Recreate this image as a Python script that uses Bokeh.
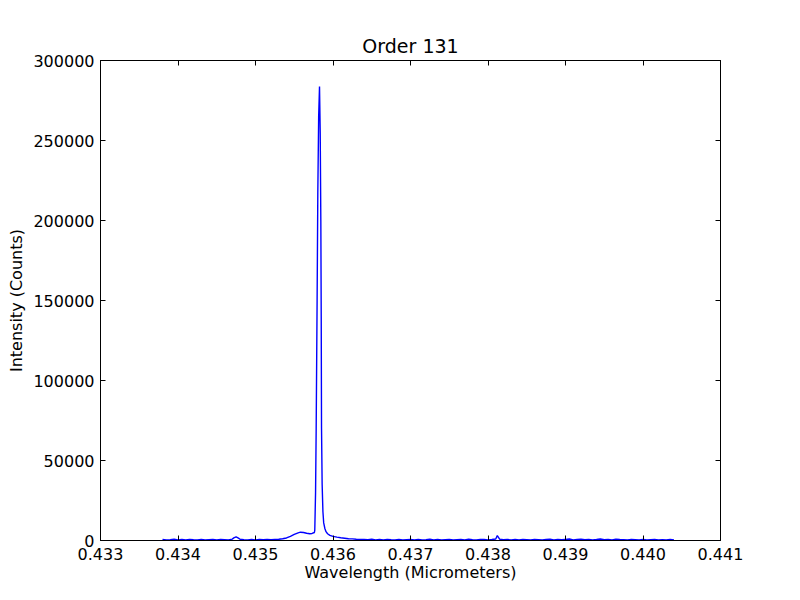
from bokeh.plotting import figure
from bokeh.models import LinearAxis, FixedTicker, PrintfTickFormatter, BasicTickFormatter, Range1d
from bokeh.embed import file_html
from bokeh.resources import INLINE

title_text = "Order 131"
x_label = "Wavelength (Micrometers)"
y_label = "Intensity (Counts)"
x_ticks = [0.433, 0.434, 0.435, 0.436, 0.437, 0.438, 0.439, 0.440, 0.441]
y_ticks = [0, 50000, 100000, 150000, 200000, 250000, 300000]

# left baseline
wl_left = [0.4338, 0.43385, 0.4339, 0.43395, 0.4340, 0.43405, 0.4341, 0.43415, 0.4342, 0.43425,
           0.4343, 0.43435, 0.4344, 0.43445, 0.4345, 0.43455, 0.4346, 0.43465, 0.4347, 0.43472,
           0.43475, 0.43478, 0.4348, 0.43485, 0.4349, 0.43495, 0.4350, 0.43505, 0.4351, 0.43515,
           0.4352, 0.43525]
int_left = [600, 300, 500, 800, 400, 600, 300, 700, 500, 400,
            600, 300, 500, 700, 400, 600, 500, 300, 900, 1600,
            2300, 1500, 800, 500, 300, 600, 400, 700, 500, 600,
            500, 700]

# bump and main peak
wl_peak = [0.43530, 0.43535, 0.43540, 0.43545, 0.43550, 0.43555, 0.43558, 0.43562, 0.43566,
           0.43570, 0.43573, 0.43576, 0.435765, 0.435775, 0.435783, 0.435795, 0.435804,
           0.435815, 0.435826, 0.435835, 0.435843, 0.435848, 0.435852, 0.435860, 0.435870,
           0.435880, 0.435895, 0.435910, 0.43593, 0.43596, 0.43600, 0.43605, 0.43610,
           0.43615, 0.4362, 0.43625, 0.4363, 0.43635, 0.4364]
int_peak = [800, 1100, 1600, 2600, 3800, 4800, 5200, 5000, 4500,
            4200, 4400, 5000, 6500, 30000, 70000, 150000, 217000,
            265000, 283700, 255000, 200000, 140000, 70000, 35000, 18000,
            11000, 7500, 5500, 4200, 3200, 2600, 2100, 1700,
            1400, 1100, 1000, 800, 700, 600]

# right baseline
wl_right = [0.43645, 0.4365, 0.43655, 0.4366, 0.43665, 0.4367, 0.43675, 0.4368, 0.43685, 0.4369,
            0.43695, 0.4370, 0.43705, 0.4371, 0.43715, 0.4372, 0.43725, 0.4373, 0.43735, 0.4374,
            0.43745, 0.4375, 0.43755, 0.4376, 0.43765, 0.4377, 0.43775, 0.4378, 0.43785, 0.4379,
            0.43795, 0.4380, 0.43805, 0.4381, 0.43812, 0.43815, 0.4382, 0.43825, 0.4383, 0.43835,
            0.4384, 0.43845, 0.4385, 0.43855, 0.4386, 0.43865, 0.4387, 0.43875, 0.4388, 0.43885,
            0.4389, 0.43895, 0.4390, 0.43905, 0.4391, 0.43915, 0.4392, 0.43925, 0.4393, 0.43935,
            0.4394, 0.43945, 0.4395, 0.43955, 0.4396, 0.43965, 0.4397, 0.43975, 0.4398, 0.43985,
            0.4399, 0.43995, 0.4400, 0.44005, 0.4401, 0.44015, 0.4402, 0.44025, 0.4403, 0.44035,
            0.4404]
int_right = [500, 800, 400, 600, 300, 700, 500, 400, 600, 300,
             500, 700, 400, 600, 300, 500, 800, 400, 600, 300,
             500, 700, 400, 500, 600, 300, 800, 500, 400, 600,
             700, 400, 600, 900, 3100, 800, 500, 600, 400, 700,
             300, 600, 500, 400, 700, 500, 300, 600, 800, 400,
             600, 500, 700, 900, 400, 600, 800, 500, 700, 400,
             600, 900, 500, 700, 400, 800, 600, 500, 300, 600,
             500, 400, 700, 300, 500, 600, 400, 500, 300, 600,
             400]

wavelength = wl_left + wl_peak + wl_right
intensity = int_left + int_peak + int_right

FONT = "DejaVu Sans"

p = figure(frame_width=620, frame_height=480,
           min_border_left=100, min_border_right=64, min_border_top=60, min_border_bottom=44,
           x_range=Range1d(0.433, 0.441), y_range=Range1d(0, 300000),
           output_backend="svg", toolbar_location=None, title=title_text,
           background_fill_color="white", border_fill_color="white")

p.line(wavelength, intensity, line_color="#0000ff", line_width=1.4)

p.grid.visible = False
p.outline_line_color = "black"
p.outline_line_width = 1

p.title.align = "center"
p.title.text_font = FONT
p.title.text_font_size = "19px"
p.title.text_font_style = "normal"
p.title.text_color = "black"
p.title.standoff = 7

xt = FixedTicker(ticks=x_ticks, minor_ticks=[])
yt = FixedTicker(ticks=y_ticks, minor_ticks=[])

for ax in p.xaxis:
    ax.ticker = xt
    ax.formatter = PrintfTickFormatter(format="%.3f")
    ax.axis_label = x_label
for ax in p.yaxis:
    ax.ticker = yt
    ax.formatter = BasicTickFormatter(use_scientific=False)
    ax.axis_label = y_label

top = LinearAxis(ticker=xt, major_label_standoff=0,
                 major_label_overrides={t: "" for t in x_ticks})
right = LinearAxis(ticker=yt, major_label_standoff=0,
                   major_label_overrides={t: "" for t in y_ticks})
p.add_layout(top, "above")
p.add_layout(right, "right")

for ax in p.axis:
    ax.major_tick_in = 5
    ax.major_tick_out = 0
    ax.minor_tick_in = 0
    ax.minor_tick_out = 0
    ax.axis_line_color = "black"
    ax.major_tick_line_color = "black"
    ax.major_label_text_font = FONT
    ax.major_label_text_color = "black"
    ax.axis_label_text_font = FONT
    ax.axis_label_text_font_style = "normal"
    ax.axis_label_text_font_size = "16px"
    ax.axis_label_text_color = "black"

p.below[0].major_label_text_font_size = "16px"
p.below[0].major_label_standoff = 7
p.below[0].axis_label_standoff = 0
p.left[0].major_label_text_font_size = "16px"
p.left[0].major_label_standoff = 6
p.left[0].axis_label_standoff = 4

open("out.html", "w").write(file_html(p, INLINE))
